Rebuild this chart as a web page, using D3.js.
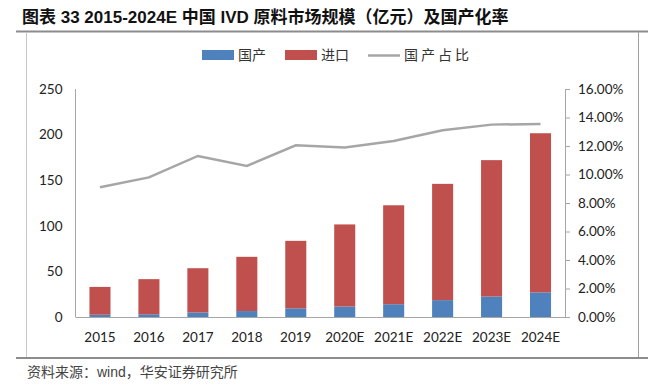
<!DOCTYPE html>
<html>
<head>
<meta charset="utf-8">
<script src="https://cdn.jsdelivr.net/npm/d3@7"></script>
<style>
  body { margin: 0; background: #fff; }
  svg { display: block; }
</style>
</head>
<body>
<div id="chart"></div>
<script>
// DATA
const years = ["2015", "2016", "2017", "2018", "2019", "2020E", "2021E", "2022E", "2023E", "2024E"];
const domestic = [2.5, 3, 5, 6.5, 9.5, 11.5, 14, 18.5, 22.5, 27];
const imports = [30.5, 38.5, 48.5, 59.5, 74, 90, 108.5, 127.5, 149.5, 174.5];
const share = [0.091, 0.098, 0.113, 0.106, 0.1205, 0.119, 0.1235, 0.131, 0.135, 0.1355];
const leftTicks = [0, 50, 100, 150, 200, 250];
const rightTicks = [0, 0.02, 0.04, 0.06, 0.08, 0.10, 0.12, 0.14, 0.16];

const W = 659, H = 385;
const COLORS = { dom: "#4f81bd", imp: "#c0504d", line: "#a6a6a6", axis: "#a6a6a6" };
const FONT = "Lato, 'Noto Sans CJK SC', sans-serif";
const CJK = "'Noto Sans CJK SC', sans-serif";

const svg = d3.select("#chart").append("svg").attr("width", W).attr("height", H);

// cadre
svg.append("line").attr("x1", 16).attr("x2", 648).attr("y1", 31.5).attr("y2", 31.5)
  .attr("stroke", "#8c8c8c").attr("stroke-width", 2);
svg.append("line").attr("x1", 16).attr("x2", 648).attr("y1", 358).attr("y2", 358)
  .attr("stroke", "#8c8c8c").attr("stroke-width", 2);
svg.append("line").attr("x1", 26.5).attr("x2", 26.5).attr("y1", 32).attr("y2", 357)
  .attr("stroke", "#c8c8c8").attr("stroke-width", 1);
svg.append("line").attr("x1", 638.5).attr("x2", 638.5).attr("y1", 32).attr("y2", 357)
  .attr("stroke", "#a0a0a0").attr("stroke-width", 1);

// titre
svg.append("text").attr("x", 22).attr("y", 23)
  .style("font-family", "'Liberation Sans', 'Noto Sans CJK SC', sans-serif")
  .style("font-size", "17px").style("font-weight", "bold").attr("fill", "#111")
  .text("图表 33 2015-2024E 中国 IVD 原料市场规模（亿元）及国产化率");

// source
svg.append("text").attr("x", 27).attr("y", 377)
  .style("font-family", "'Liberation Sans', 'Noto Sans CJK SC', sans-serif")
  .style("font-size", "14px").attr("fill", "#444")
  .text("资料来源：wind，华安证券研究所");

// SCALES
const plotL = 75.5, plotR = 565, plotT = 89, plotB = 317;
const x = d3.scaleBand().domain(years).range([plotL, plotR]).paddingInner(0.57).paddingOuter(0.285);
const y = d3.scaleLinear().domain([0, 250]).range([plotB, plotT]);
const y2 = d3.scaleLinear().domain([0, 0.16]).range([plotB, plotT]);

// barres empilees
const stackData = years.map((yr, i) => ({ year: yr, dom: domestic[i], imp: imports[i] }));
const series = d3.stack().keys(["dom", "imp"])(stackData);
svg.append("g").selectAll("g").data(series).join("g")
  .attr("fill", d => COLORS[d.key])
  .selectAll("rect").data(d => d).join("rect")
  .attr("x", d => x(d.data.year))
  .attr("width", x.bandwidth())
  .attr("y", d => y(d[1]))
  .attr("height", d => y(d[0]) - y(d[1]));

// axes
const axisG = svg.append("g");
axisG.append("line").attr("x1", plotL).attr("x2", plotL).attr("y1", plotT).attr("y2", plotB)
  .attr("stroke", COLORS.axis);
axisG.append("line").attr("x1", plotL).attr("x2", plotR).attr("y1", plotB + 0.5).attr("y2", plotB + 0.5)
  .attr("stroke", COLORS.axis);

const yAxis = svg.append("g").attr("transform", `translate(${plotL},0)`)
  .call(d3.axisLeft(y).tickValues(leftTicks).tickSize(0).tickPadding(13));
yAxis.select(".domain").remove();

const yAxis2 = svg.append("g").attr("transform", `translate(${plotR},0)`)
  .call(d3.axisRight(y2).tickValues(rightTicks).tickSize(5).tickPadding(8).tickFormat(d3.format(".2%")));
yAxis2.selectAll("path.domain").attr("stroke", COLORS.axis);
yAxis2.selectAll(".tick line").attr("stroke", COLORS.axis);

const xAxis = svg.append("g").attr("transform", `translate(0,${plotB})`)
  .call(d3.axisBottom(x).tickSize(0).tickPadding(15));
xAxis.select(".domain").remove();

svg.selectAll(".tick text").style("font-family", FONT).style("font-size", "13.5px").attr("fill", "#222");

// ligne
const line = d3.line().x((d, i) => x(years[i]) + x.bandwidth() / 2).y(d => y2(d));
svg.append("path").datum(share).attr("d", line)
  .attr("fill", "none").attr("stroke", COLORS.line).attr("stroke-width", 2.5);

// legende
const lg = svg.append("g").style("font-family", CJK).style("font-size", "14px");
lg.append("rect").attr("x", 202).attr("y", 50).attr("width", 32).attr("height", 10).attr("fill", COLORS.dom);
lg.append("text").attr("x", 238).attr("y", 60).attr("fill", "#333").text("国产");
lg.append("rect").attr("x", 285).attr("y", 50).attr("width", 32).attr("height", 10).attr("fill", COLORS.imp);
lg.append("text").attr("x", 321).attr("y", 60).attr("fill", "#333").text("进口");
lg.append("line").attr("x1", 368).attr("x2", 400).attr("y1", 55.5).attr("y2", 55.5)
  .attr("stroke", COLORS.line).attr("stroke-width", 2.5);
lg.append("text").attr("x", 404).attr("y", 60).attr("fill", "#333").attr("letter-spacing", "3px").text("国产占比");
</script>
</body>
</html>
